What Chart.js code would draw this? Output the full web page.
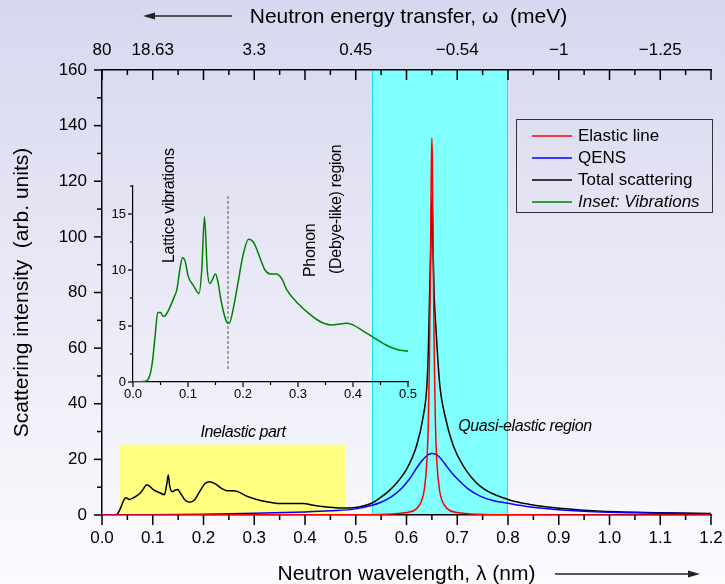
<!DOCTYPE html>
<html>
<head>
<meta charset="utf-8">
<title>Neutron scattering spectrum</title>
<script src="https://cdn.jsdelivr.net/npm/chart.js@4.4.1/dist/chart.umd.min.js"></script>
<style>
  html, body { margin: 0; padding: 0; }
  body { width: 725px; height: 584px; overflow: hidden; background: linear-gradient(#d7d7ef, #fbfbfe); }
  #wrap { position: relative; width: 725px; height: 584px; }
  canvas { position: absolute; left: 0; top: 0; }
  #inset { pointer-events: none; }
</style>
</head>
<body>
<div id="wrap">
  <canvas id="main" width="725" height="584"></canvas>
  <canvas id="inset" width="725" height="584"></canvas>
</div>
<script>
// ---- data ----
const elasticX = [0, 0.3, 0.5, 0.55, 0.6, 0.62, 0.63, 0.635, 0.64, 0.643, 0.645, 0.647, 0.649, 0.65, 0.651, 0.653, 0.655, 0.657, 0.66, 0.665, 0.67, 0.68, 0.7, 0.75, 0.8, 1.0, 1.2];
const elasticY = [0, 0.05, 0.1, 0.22, 0.86, 2.3, 5.2, 9.0, 18.6, 33, 53, 86, 127, 135.5, 127, 86, 53, 33, 18.6, 9.0, 5.2, 2.3, 0.86, 0.22, 0.1, 0.03, 0.01];

const qensX = [0, 0.1, 0.2, 0.3, 0.4, 0.45, 0.5, 0.53, 0.55, 0.57, 0.59, 0.6, 0.61, 0.62, 0.63, 0.64, 0.65, 0.66, 0.67, 0.68, 0.69, 0.7, 0.72, 0.745, 0.77, 0.8, 0.84, 0.9, 0.97, 1.05, 1.12, 1.2];
const qensY = [0.05, 0.12, 0.3, 0.6, 1.1, 1.5, 2.2, 3.4, 4.6, 6.5, 9.5, 11.6, 14.0, 16.9, 19.4, 21.3, 22.1, 21.6, 19.8, 17.3, 15.0, 13.0, 9.6, 6.8, 5.2, 4.2, 3.0, 1.9, 1.2, 0.8, 0.6, 0.4];

const totalX = [0, 0.025, 0.03, 0.0355, 0.042, 0.047, 0.054, 0.062, 0.075, 0.081, 0.088, 0.0946, 0.101, 0.114, 0.123, 0.1275, 0.1307, 0.1334, 0.1386, 0.144, 0.149, 0.154, 0.1635, 0.173, 0.183, 0.193, 0.203, 0.2115, 0.2227, 0.236, 0.2457, 0.2587, 0.2686, 0.285, 0.305, 0.3245, 0.3507, 0.377, 0.397, 0.4165, 0.443, 0.469, 0.495, 0.52, 0.533, 0.548, 0.565, 0.581, 0.6, 0.62, 0.633, 0.64, 0.643, 0.6455, 0.648, 0.65, 0.652, 0.6545, 0.657, 0.661, 0.666, 0.676, 0.692, 0.712, 0.745, 0.8, 0.843, 0.909, 0.975, 1.105, 1.2];
const totalY = [0, 0, 0.3, 2.0, 5.0, 6.2, 5.6, 6.2, 7.8, 9.2, 10.9, 10.2, 9.1, 8.0, 7.3, 11.0, 14.4, 10.4, 8.4, 8.9, 9.2, 8.0, 5.4, 4.6, 5.6, 8.6, 11.3, 12.0, 11.3, 9.5, 8.75, 8.75, 8.3, 6.8, 5.6, 4.8, 4.1, 4.1, 4.1, 3.5, 2.9, 2.5, 2.6, 3.5, 4.4, 6.2, 8.6, 11.6, 16.4, 25, 35.5, 46, 59, 79, 97, 114.5, 97, 79, 70, 58, 46, 35.5, 25, 17.6, 10.4, 5.6, 3.8, 2.3, 1.4, 0.8, 0.5];

const insetX = [0, 0.02, 0.03, 0.035, 0.04, 0.045, 0.05, 0.055, 0.06, 0.07, 0.075, 0.08, 0.085, 0.09, 0.095, 0.1, 0.11, 0.12, 0.125, 0.13, 0.135, 0.14, 0.15, 0.155, 0.16, 0.17, 0.175, 0.18, 0.19, 0.2, 0.21, 0.22, 0.23, 0.24, 0.25, 0.26, 0.27, 0.28, 0.3, 0.32, 0.34, 0.36, 0.38, 0.39, 0.4, 0.42, 0.44, 0.46, 0.48, 0.5];
const insetY = [0, 0.05, 0.5, 1.7, 4.0, 6.2, 6.2, 5.85, 6.0, 7.0, 7.6, 8.3, 10.0, 11.1, 10.75, 9.5, 8.6, 7.9, 10.0, 14.75, 10.0, 8.8, 9.65, 8.8, 7.3, 5.4, 5.25, 6.0, 8.6, 11.3, 12.74, 12.4, 11.2, 10.0, 9.65, 9.65, 9.27, 8.2, 7.0, 6.1, 5.4, 5.1, 5.2, 5.25, 5.1, 4.5, 3.9, 3.3, 2.9, 2.75];

const dividerX = [0.1727, 0.1727];
const dividerY = [1.16, 16.6];

const quasiBand = [0.532, 0.80];        // cyan band, nm
const inelasticBox = [0.035, 0.479];    // yellow box, nm
const inelasticBoxTop = 25.3;

const energyTickPos = [0, 0.1, 0.3, 0.5, 0.7, 0.9, 1.1];
const energyTickLabels = ['80', '18.63', '3.3', '0.45', '\u22120.54', '\u22121', '\u22121.25'];

const legendLabels = ['Elastic line', 'QENS', 'Total scattering', 'Inset: Vibrations'];
const legendColors = ['#ff0000', '#0000ff', '#000000', '#008000'];

const FONT = '"Liberation Sans", Arial, sans-serif';
Chart.defaults.font.family = FONT;
Chart.defaults.color = '#000';

const pts = (xs, ys) => xs.map((x, i) => ({ x, y: ys[i] }));

// no label overflow padding, the plot box is fixed
const noPad = s => { s.paddingLeft = 0; s.paddingRight = 0; s.paddingTop = 0; s.paddingBottom = 0; };

function tickMarks(ctx, scale, step, majorEvery, majorLen, minorLen, dir, width) {
  ctx.save();
  ctx.strokeStyle = '#000';
  ctx.lineWidth = width;
  const n = Math.round((scale.max - scale.min) / step);
  for (let i = 0; i <= n; i++) {
    const v = scale.min + i * step;
    const len = i % majorEvery === 0 ? majorLen : minorLen;
    const p = scale.getPixelForValue(v);
    ctx.beginPath();
    if (scale.isHorizontal()) {
      const y0 = scale.position === 'top' ? scale.bottom : scale.top;
      ctx.moveTo(p, y0);
      ctx.lineTo(p, y0 + dir * len);
    } else {
      ctx.moveTo(scale.right, p);
      ctx.lineTo(scale.right + dir * len, p);
    }
    ctx.stroke();
  }
  ctx.restore();
}

function arrow(ctx, x0, x1, y) {
  const d = Math.sign(x1 - x0);
  ctx.save();
  ctx.strokeStyle = '#222';
  ctx.fillStyle = '#222';
  ctx.lineWidth = 1.3;
  ctx.beginPath();
  ctx.moveTo(x0, y);
  ctx.lineTo(x1 - d * 8, y);
  ctx.stroke();
  ctx.beginPath();
  ctx.moveTo(x1, y);
  ctx.lineTo(x1 - d * 12, y - 3.5);
  ctx.lineTo(x1 - d * 12, y + 3.5);
  ctx.closePath();
  ctx.fill();
  ctx.restore();
}

const mainDecor = {
  id: 'mainDecor',
  beforeDraw(chart) {
    const { ctx, scales: { x, y } } = chart;
    ctx.save();
    const bx0 = x.getPixelForValue(inelasticBox[0]);
    const bx1 = x.getPixelForValue(inelasticBox[1]);
    const bTop = y.getPixelForValue(inelasticBoxTop);
    ctx.fillStyle = '#ffff80';
    ctx.fillRect(bx0, bTop, bx1 - bx0, y.getPixelForValue(0) - bTop);

    const cx0 = x.getPixelForValue(quasiBand[0]);
    const cx1 = x.getPixelForValue(quasiBand[1]);
    ctx.fillStyle = '#80ffff';
    ctx.fillRect(cx0, y.top, cx1 - cx0, y.bottom - y.top);
    ctx.strokeStyle = '#10e0f0';
    ctx.lineWidth = 1;
    ctx.beginPath();
    ctx.moveTo(cx0 + 0.5, y.top); ctx.lineTo(cx0 + 0.5, y.bottom);
    ctx.moveTo(cx1 - 0.5, y.top); ctx.lineTo(cx1 - 0.5, y.bottom);
    ctx.stroke();
    ctx.restore();
  },
  afterDraw(chart) {
    const { ctx, scales: { x, x2, y } } = chart;
    tickMarks(ctx, y, 10, 2, 8, 5, -1, 1.5);
    tickMarks(ctx, x, 0.05, 2, 10, 5, 1, 1.5);
    tickMarks(ctx, x2, 0.05, 2, 10, 5, 1, 1.5);

    ctx.save();
    ctx.fillStyle = '#000';
    // axis titles
    ctx.font = '21px ' + FONT;
    ctx.textAlign = 'center';
    ctx.textBaseline = 'alphabetic';
    const midX = (x.left + x.right) / 2;
    ctx.fillText('Neutron wavelength, \u03bb (nm)', midX, 580);
    ctx.fillText('Neutron energy transfer, \u03c9  (meV)', midX + 2, 23);
    ctx.save();
    ctx.translate(22, (y.top + y.bottom) / 2);
    ctx.rotate(-Math.PI / 2);
    ctx.textBaseline = 'middle';
    ctx.fillText('Scattering intensity  (arb. units)', 0, 0);
    ctx.restore();
    arrow(ctx, 555, 700, 574);
    arrow(ctx, 232, 143, 16);

    // region notes
    ctx.font = 'italic 16px ' + FONT;
    ctx.letterSpacing = '-0.4px';
    ctx.textBaseline = 'middle';
    ctx.fillText('Inelastic part', 243, 433);
    ctx.fillText('Quasi-elastic region', 525, 427);
    ctx.letterSpacing = '0px';

    // legend box
    const lx = 516, ly = 119, lw = 196, lh = 93;
    ctx.strokeStyle = '#333';
    ctx.lineWidth = 1;
    ctx.strokeRect(lx + 0.5, ly + 0.5, lw, lh);
    ctx.textAlign = 'left';
    legendLabels.forEach((lab, i) => {
      const ry = 136 + i * 22;
      ctx.strokeStyle = legendColors[i];
      ctx.lineWidth = 1.5;
      ctx.beginPath();
      ctx.moveTo(532, ry);
      ctx.lineTo(572, ry);
      ctx.stroke();
      ctx.font = (i === 3 ? 'italic ' : '') + '17px ' + FONT;
      ctx.fillText(lab, 578, ry);
    });
    ctx.restore();
  }
};

const lineDs = (label, xs, ys, color) => ({
  label,
  data: pts(xs, ys),
  borderColor: color,
  borderWidth: 1.5,
  pointRadius: 0,
  cubicInterpolationMode: 'monotone',
  fill: false
});

new Chart(document.getElementById('main'), {
  type: 'line',
  data: {
    datasets: [
      lineDs('Elastic line', elasticX, elasticY, legendColors[0]),
      lineDs('QENS', qensX, qensY, legendColors[1]),
      lineDs('Total scattering', totalX, totalY, legendColors[2])
    ]
  },
  options: {
    responsive: false,
    devicePixelRatio: 1,
    animation: false,
    layout: { padding: { left: 0, right: 14, top: 0, bottom: 0 } },
    plugins: { legend: { display: false }, tooltip: { enabled: false } },
    scales: {
      x: {
        type: 'linear', position: 'bottom', min: 0, max: 1.2,
        grid: { display: false, drawTicks: false },
        border: { display: true, color: '#000', width: 1.5 },
        ticks: { stepSize: 0.1, autoSkip: false, maxRotation: 0, padding: 13,
          font: { size: 17 }, callback: v => v.toFixed(1) },
        afterFit: s => { s.height = 69; noPad(s); }
      },
      x2: {
        type: 'linear', position: 'top', min: 0, max: 1.2,
        grid: { display: false, drawTicks: false },
        border: { display: true, color: '#000', width: 1.5 },
        ticks: { stepSize: 0.1, autoSkip: false, maxRotation: 0, padding: 9,
          font: { size: 17 },
          callback: v => {
            const i = energyTickPos.findIndex(p => Math.abs(p - v) < 1e-6);
            return i >= 0 ? energyTickLabels[i] : '';
          } },
        afterFit: s => { s.height = 70; noPad(s); }
      },
      y: {
        type: 'linear', position: 'left', min: 0, max: 160,
        grid: { display: false, drawTicks: false },
        border: { display: true, color: '#000', width: 1.5 },
        ticks: { stepSize: 20, padding: 15, font: { size: 17 } },
        afterFit: s => { s.width = 102; noPad(s); }
      }
    }
  },
  plugins: [mainDecor]
});

// ---- inset: vibrations ----
const insetDecor = {
  id: 'insetDecor',
  afterDraw(chart) {
    const { ctx, scales: { x, y } } = chart;
    tickMarks(ctx, y, 2.5, 2, 5, 3, -1, 1.2);
    tickMarks(ctx, x, 0.05, 2, 5, 3, 1, 1.2);
    ctx.save();
    ctx.fillStyle = '#000';
    ctx.font = '16px ' + FONT;
    ctx.letterSpacing = '-0.3px';
    ctx.textAlign = 'left';
    ctx.textBaseline = 'middle';
    const rot = (txt, cx, bottom) => {
      ctx.save();
      ctx.translate(cx, bottom);
      ctx.rotate(-Math.PI / 2);
      ctx.fillText(txt, 0, 0);
      ctx.restore();
    };
    rot('Lattice vibrations', 170, 263);
    rot('Phonon', 311, 277);
    rot('(Debye-like) region', 337, 274);
    ctx.restore();
  }
};

new Chart(document.getElementById('inset'), {
  type: 'line',
  data: {
    datasets: [
      lineDs('Inset: Vibrations', insetX, insetY, legendColors[3]),
      {
        label: 'divider',
        data: pts(dividerX, dividerY),
        borderColor: '#555',
        borderWidth: 1,
        borderDash: [3, 2],
        pointRadius: 0
      }
    ]
  },
  options: {
    responsive: false,
    devicePixelRatio: 1,
    animation: false,
    layout: { padding: { left: 103, right: 317, top: 186, bottom: 180 } },
    plugins: { legend: { display: false }, tooltip: { enabled: false } },
    scales: {
      x: {
        type: 'linear', min: 0, max: 0.5,
        grid: { display: false, drawTicks: false },
        border: { display: true, color: '#000', width: 1.2 },
        ticks: { stepSize: 0.1, autoSkip: false, maxRotation: 0, padding: 5,
          font: { size: 13 }, callback: v => v.toFixed(1) },
        afterFit: s => { s.height = 22; noPad(s); }
      },
      y: {
        type: 'linear', min: 0, max: 17.5,
        grid: { display: false, drawTicks: false },
        border: { display: true, color: '#000', width: 1.2 },
        ticks: { stepSize: 2.5, padding: 7, font: { size: 13 },
          callback: v => (v % 5 === 0 ? String(v) : '') },
        afterFit: s => { s.width = 30; noPad(s); }
      }
    }
  },
  plugins: [insetDecor]
});
</script>
</body>
</html>
